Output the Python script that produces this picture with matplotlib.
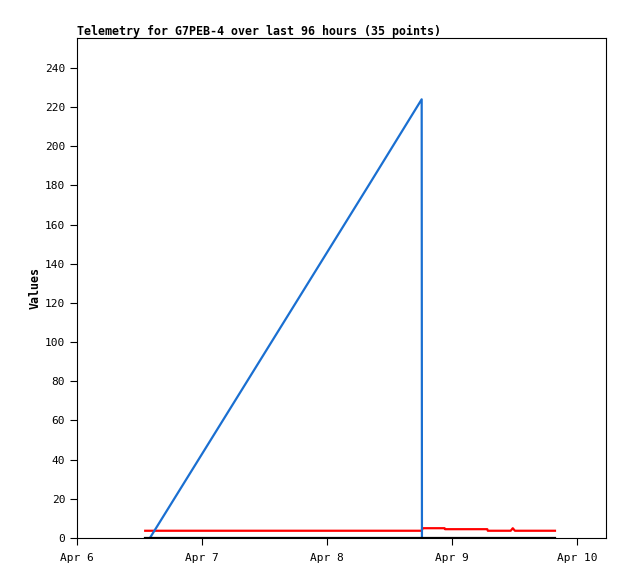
import numpy as np
import matplotlib
matplotlib.use("Agg")
import matplotlib.pyplot as plt
import matplotlib.dates as mdates
from datetime import datetime, timedelta

base = datetime(2024, 4, 6)

# hours since Apr 6 00:00
blue_hours = [14.0, 28.0, 42.0, 56.0, 66.2, 66.25]
blue_vals = [0.0, 60.0, 120.0, 180.0, 224.0, 0.0]

red_hours = [13.1, 40.0, 66.2, 66.4, 70.6, 70.7, 78.8, 78.9, 83.3, 83.7, 84.1, 88.0, 91.8]
red_vals = [3.7, 3.7, 3.7, 5.0, 5.0, 4.5, 4.5, 3.7, 3.7, 5.0, 3.7, 3.7, 3.7]

black_hours = [13.1, 40.0, 66.2, 91.8]
black_vals = [0.0, 0.0, 0.0, 0.0]

yticks = list(range(0, 241, 20))

def to_dt(hours):
    return [base + timedelta(hours=h) for h in hours]

plt.rcParams['font.family'] = 'DejaVu Sans Mono'
fig = plt.figure(figsize=(6.18, 5.79), dpi=100)
ax = fig.add_axes([77/618, 41/579, 529/618, 500/579])

ax.plot(to_dt(red_hours), red_vals, color='#ff0000', lw=1.6, zorder=2)
ax.plot(to_dt(blue_hours), blue_vals, color='#1a6fd1', lw=1.6, zorder=2)
ax.plot(to_dt(black_hours), black_vals, color='black', lw=1.6, zorder=3)

ax.set_xlim(base, base + timedelta(hours=101.6))
ax.set_ylim(0, 255.3)
ax.set_yticks(yticks)
ax.xaxis.set_major_locator(mdates.DayLocator())
ax.xaxis.set_major_formatter(mdates.DateFormatter('%b %-d'))
ax.tick_params(direction='out', length=5, labelsize=8, width=0.8)
ax.tick_params(axis='x', pad=6)
ax.set_ylabel('Values', fontsize=8.4, fontweight='bold', labelpad=2)
ax.set_title('Telemetry for G7PEB-4 over last 96 hours (35 points)',
             loc='left', fontsize=8.4, fontweight='bold', pad=2)
for s in ax.spines.values():
    s.set_linewidth(0.8)

fig.savefig('out.png', dpi=100)
